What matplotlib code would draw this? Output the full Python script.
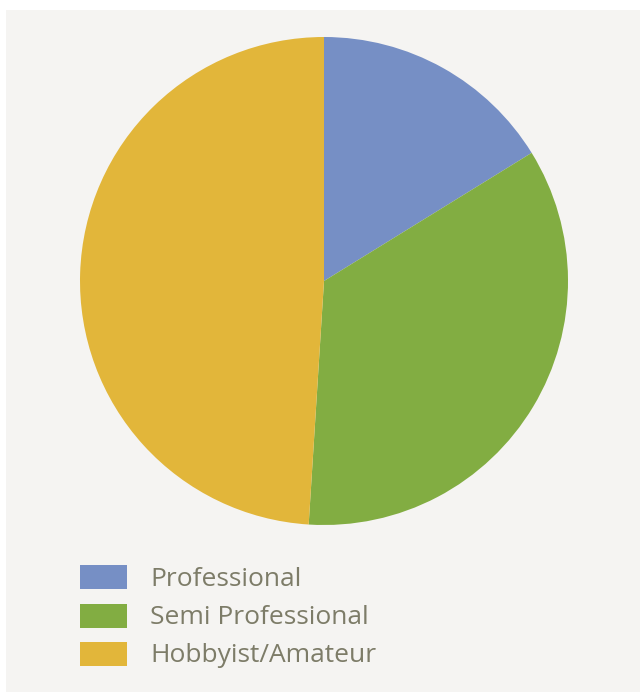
import matplotlib.pyplot as plt
from matplotlib.patches import Rectangle

# share of respondents by level
categories = ["Professional", "Semi Professional", "Hobbyist/Amateur"]
shares = [16.2, 34.8, 49.0]
colors = ["#768fc5", "#82ad42", "#e2b63a"]

W, H = 640, 692
fig = plt.figure(figsize=(W / 100, H / 100), dpi=100, facecolor="white")

# light panel behind everything
fig.patches.append(Rectangle((6 / W, 0), 1 - 6 / W, 1 - 10 / H,
                             transform=fig.transFigure, facecolor="#f5f4f2",
                             edgecolor="none", zorder=-5))

cx, cy, r = 324, 281, 244
ax = fig.add_axes([(cx - r) / W, (H - cy - r) / H, 2 * r / W, 2 * r / H])
ax.set_zorder(2)
ax.patch.set_alpha(0)
ax.pie(shares, colors=colors, startangle=90, counterclock=False,
       radius=1, wedgeprops=dict(linewidth=0))
ax.set_xlim(-1, 1)
ax.set_ylim(-1, 1)
ax.set_aspect("equal")
ax.axis("off")

# legend drawn by hand: swatch + label per row
row_y = [577, 616, 654]
for name, col, y in zip(categories, colors, row_y):
    fig.patches.append(Rectangle((80 / W, (H - y - 12) / H), 47 / W, 24 / H,
                                 transform=fig.transFigure, facecolor=col,
                                 edgecolor="none", zorder=2))
    fig.text(150 / W, (H - y - 2) / H, name, fontsize=19, color="#7d7c68",
             family="Open Sans", va="center", ha="left")

fig.savefig("out.png", dpi=100, facecolor=fig.get_facecolor())
